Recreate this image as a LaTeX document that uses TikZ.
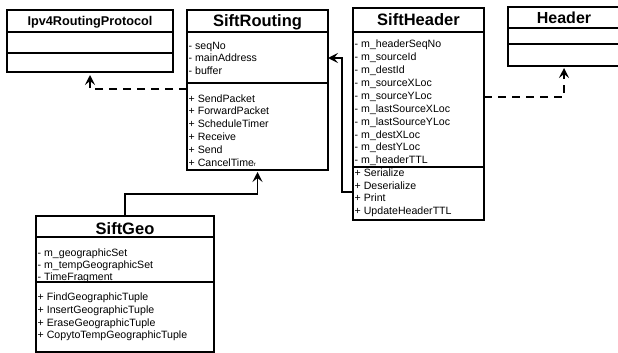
\documentclass[tikz,border=0pt]{standalone}
\usepackage{fontspec}
\setmainfont{Liberation Sans}
\usetikzlibrary{arrows.meta}
\tikzset{
  umlbox/.style={draw, line width=1.5pt, fill=white, anchor=north west, inner sep=0pt, outer sep=0pt},
  divider/.style={line width=1.5pt},
  bigtitle/.style={anchor=base, inner sep=0pt, font=\bfseries\fontsize{16.5}{18}\selectfont},
  smalltitle/.style={anchor=base, inner sep=0pt, font=\bfseries\fontsize{12.7}{14}\selectfont},
  txt/.style={anchor=base west, inner sep=0pt, font=\fontsize{10.6}{12}\selectfont},
  dconn/.style={line width=1.5pt, dash pattern=on 8pt off 6pt, -{Stealth[length=10pt,width=10pt,inset=4pt]}},
  sconn/.style={line width=1.5pt, -{Stealth[length=10pt,width=10pt,inset=4pt]}}
}
\begin{document}
\begin{tikzpicture}[x=1pt,y=-1pt]
\useasboundingbox (0,0) rectangle (618,353);
\clip (0,0) rectangle (618,353);

% Ipv4RoutingProtocol
\node[umlbox, minimum width=166pt, minimum height=62pt] (ipv) at (7,10) {};
\draw[divider] (7,32) -- (173,32);
\draw[divider] (7,53) -- (173,53);
\node[smalltitle] (ipvt) at (90,26) {Ipv4RoutingProtocol};

% SiftRouting
\node[umlbox, minimum width=141pt, minimum height=160pt] (sr) at (187,10) {};
\draw[divider] (187,32) -- (328,32);
\draw[divider] (187,83) -- (328,83);
\node[bigtitle] (srt) at (257.5,26.7) {SiftRouting};
\foreach \t [count=\i from 0] in {- seqNo, - mainAddress, - buffer}
  \node[txt] (sra\i) at (188.5,{49+12.9*\i}) {\t};
\foreach \t [count=\i from 0] in {+ SendPacket, + ForwardPacket, + ScheduleTimer, + Receive, + Send, + CancelTime{\fontsize{6}{6}\selectfont r}}
  \node[txt] (srm\i) at (188.5,{102+12.9*\i}) {\t};

% SiftHeader
\node[umlbox, minimum width=131pt, minimum height=212pt] (sh) at (353,8) {};
\draw[divider] (353,32) -- (484,32);
\draw[divider] (353,167) -- (484,167);
\node[bigtitle] (sht) at (418.5,26) {SiftHeader};
\foreach \t [count=\i from 0] in {- m\_headerSeqNo, - m\_sourceId, - m\_destId, - m\_sourceXLoc, - m\_sourceYLoc, - m\_lastSourceXLoc, - m\_lastSourceYLoc, - m\_destXLoc, - m\_destYLoc, - m\_headerTTL}
  \node[txt] (sha\i) at (354.5,{47.3+12.96*\i}) {\t};
\foreach \t [count=\i from 0] in {+ Serialize, + Deserialize, + Print, + UpdateHeaderTTL}
  \node[txt] (shm\i) at (354.5,{176.3+12.8*\i}) {\t};

% Header
\node[umlbox, minimum width=112pt, minimum height=59pt] (hd) at (508,7) {};
\draw[divider] (508,28) -- (620,28);
\draw[divider] (508,44) -- (620,44);
\node[bigtitle, font=\bfseries\fontsize{16}{18}\selectfont] (hdt) at (564,23.3) {Header};

% SiftGeo
\node[umlbox, minimum width=178pt, minimum height=136pt] (sg) at (36,216) {};
\draw[divider] (36,237) -- (214,237);
\draw[divider] (36,282) -- (214,282);
\node[bigtitle] (sgt) at (125,234.5) {SiftGeo};
\foreach \t [count=\i from 0] in {- m\_geographicSet, - m\_tempGeographicSet, - TimeFragment}
  \node[txt] (sga\i) at (37.5,{256+12.3*\i}) {\t};
\foreach \t [count=\i from 0] in {+ FindGeographicTuple, + InsertGeographicTuple, + EraseGeographicTuple, + CopytoTempGeographicTuple}
  \node[txt] (sgm\i) at (37.5,{300.7+12.7*\i}) {\t};

% connectors
\coordinate (j1) at (90,89);
\coordinate (j2) at (564,97);
\coordinate (j3) at (342,192);
\coordinate (j4) at (342,58);
\coordinate (j5) at (125,194);

\draw[dconn] (sr.west |- j1) -| ([yshift=-3pt]ipv.south);
\draw[dconn] (sh.east |- j2) -| ([yshift=-2pt]hd.south);
\draw[sconn] (sh.west |- j3) -- (j3) -- (j4) -- (sr.east |- j4);
\draw[sconn] (sg.north) -- (j5) -| ([yshift=-2pt]sr.south);
\end{tikzpicture}
\end{document}
